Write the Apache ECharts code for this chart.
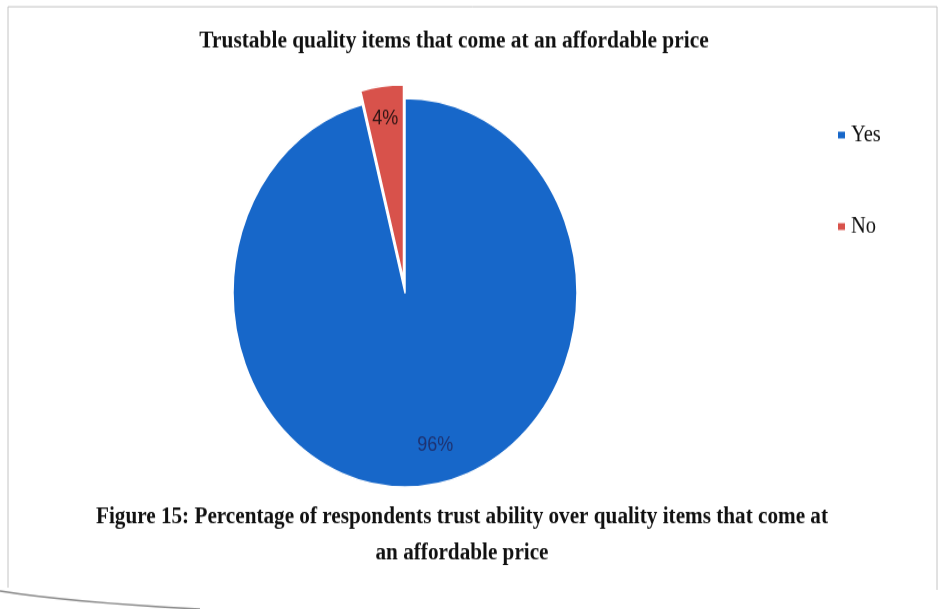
<!DOCTYPE html>
<html>
<head>
<meta charset="utf-8">
<script src="https://cdn.jsdelivr.net/npm/echarts@6/dist/echarts.min.js"></script>
<style>
  html, body { margin: 0; padding: 0; background: #ffffff; overflow: hidden; }
  #wrap { width: 940px; height: 609px; position: relative; overflow: hidden; }
  /* the whole figure is drawn slightly taller than wide */
  #chart { width: 940px; height: 539px; position: absolute; left: 0; top: 0;
           transform: scaleY(1.13); transform-origin: 0 0; }
</style>
</head>
<body>
<div id="wrap"><div id="chart"></div></div>
<script>
// Survey answers and their shares (%)
const categories = ['Yes', 'No'];
const shares = [96, 4];
const sliceColors = ['#1767c9', '#d8524b'];
const labelColors = ['#1f3270', '#2e1414'];

const chartTitle = 'Trustable quality items that come at an affordable price';
const captionText = 'Figure 15: Percentage of respondents trust ability over quality items that come at\nan affordable price';

// label nudges relative to the default "inside" spot of each slice
const labelNudge = [[19, 47], [-7, -54]];

const chart = echarts.init(document.getElementById('chart'), null, { renderer: 'canvas' });

const serif = '"Liberation Serif", "Times New Roman", serif';

const option = {
  backgroundColor: '#ffffff',
  animation: false,
  title: [
    {
      text: chartTitle,
      left: 449, top: 21, textAlign: 'center',
      textStyle: { fontFamily: serif, fontWeight: 'bold', fontSize: 21.4, color: '#111' }
    },
    {
      text: captionText,
      left: 457, top: 437, textAlign: 'center',
      textStyle: { fontFamily: serif, fontWeight: 'bold', fontSize: 21.2, color: '#111', lineHeight: 32 }
    }
  ],
  legend: {
    orient: 'vertical',
    left: 831, top: 104,
    itemWidth: 9, itemHeight: 8, itemGap: 60,
    icon: 'rect',
    data: categories,
    textStyle: { fontFamily: serif, fontSize: 20.5, color: '#111' }
  },
  graphic: [
    {
      type: 'polyline', silent: true,
      shape: { points: [[8, 520], [8, 6], [937, 6], [937, 522]] },
      style: { stroke: '#c4c4c4', lineWidth: 1, fill: null }
    },
    {
      type: 'bezierCurve', silent: true,
      shape: { x1: 0, y1: 523, x2: 200, y2: 539, cpx1: 70, cpy1: 533 },
      style: { stroke: '#8a8a8a', lineWidth: 1.5, fill: null }
    }
  ],
  series: [
    {
      type: 'pie',
      center: [405, 259],
      radius: ['0%', 172],
      startAngle: 90,
      clockwise: true,
      selectedMode: 'single',
      selectedOffset: 12,
      avoidLabelOverlap: false,
      itemStyle: { borderColor: '#ffffff', borderWidth: 1.5 },
      emphasis: { disabled: true },
      label: {
        show: true,
        position: 'inside',
        formatter: '{c}%',
        fontFamily: '"Liberation Sans", Arial, sans-serif',
        fontSize: 18
      },
      labelLayout: function (p) {
        const n = labelNudge[p.dataIndex] || [0, 0];
        return { dx: n[0], dy: n[1] };
      },
      data: categories.map(function (name, i) {
        return {
          name: name,
          value: shares[i],
          selected: name === 'No',
          itemStyle: { color: sliceColors[i] },
          label: { color: labelColors[i] }
        };
      })
    }
  ]
};

chart.setOption(option);
</script>
</body>
</html>
